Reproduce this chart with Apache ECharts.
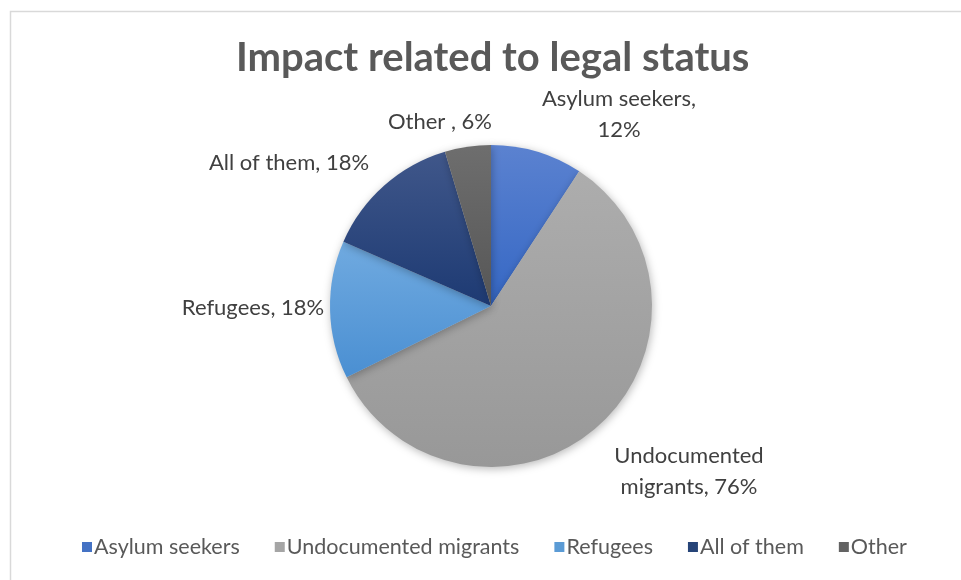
<!DOCTYPE html>
<html>
<head>
<meta charset="utf-8">
<script src="https://cdn.jsdelivr.net/npm/echarts@6/dist/echarts.min.js"></script>
<style>
html,body{margin:0;padding:0;background:#fff;}
#chart{width:961px;height:580px;}
</style>
</head>
<body>
<div id="chart"></div>
<script>
// Data
var categories = ['Asylum seekers', 'Undocumented migrants', 'Refugees', 'All of them', 'Other'];
var values = [12, 76, 18, 18, 6];
var labelTexts = ['Asylum seekers,\n12%', 'Undocumented\nmigrants, 76%', 'Refugees, 18%', 'All of them, 18%', 'Other , 6%'];

// Styles (separate from data)
var gradients = [
  ['#5b82d0', '#3567c4'],
  ['#adadad', '#989898'],
  ['#70aae0', '#4a8fd2'],
  ['#40578a', '#1d3a73'],
  ['#6e6e6e', '#565656']
];
var legendColors = ['#4472c4', '#a5a5a5', '#5b9bd5', '#264478', '#636363'];
// label centre positions, relative to chart canvas
var labelPos = [[619, 114], [689, 471], [253, 308], [289, 163], [440, 122]];

var FONT = 'Lato, "Open Sans", sans-serif';

var chart = echarts.init(document.getElementById('chart'), null, {renderer: 'canvas'});

var data = categories.map(function (c, i) {
  return {
    name: c,
    value: values[i],
    itemStyle: {
      color: new echarts.graphic.LinearGradient(0, 0, 0, 1, [
        {offset: 0, color: gradients[i][0]},
        {offset: 1, color: gradients[i][1]}
      ])
    }
  };
});

var option = {
  animation: false,
  backgroundColor: '#ffffff',
  title: {
    text: 'Impact related to legal status',
    left: 231,
    top: 33,
    textStyle: {fontFamily: FONT, fontWeight: 'bold', fontSize: 40, color: '#595959'}
  },
  graphic: [{
    type: 'rect',
    shape: {x: 10.5, y: 11.5, width: 1000, height: 1000},
    style: {fill: null, stroke: '#d9d9d9', lineWidth: 1.5},
    silent: true
  }],
  legend: {
    bottom: 17,
    left: 77,
    itemWidth: 10,
    itemHeight: 10,
    itemGap: 35,
    icon: 'rect',
    data: categories.map(function (c, i) {
      return {name: c, itemStyle: {color: legendColors[i]}};
    }),
    textStyle: {fontFamily: FONT, fontSize: 21.5, color: '#595959', padding: [0, 0, 0, -3]}
  },
  series: [{
    type: 'pie',
    center: [491, 306],
    radius: 161,
    startAngle: 90,
    clockwise: true,
    data: data,
    itemStyle: {
      shadowBlur: 8,
      shadowColor: 'rgba(0,0,0,0.28)',
      shadowOffsetX: 1,
      shadowOffsetY: 2
    },
    label: {
      show: true,
      formatter: function (p) { return labelTexts[p.dataIndex]; },
      fontFamily: FONT,
      fontSize: 22,
      color: '#404040',
      lineHeight: 31,
      align: 'center'
    },
    labelLine: {show: false},
    labelLayout: function (params) {
      var p = labelPos[params.dataIndex];
      return {x: p[0], y: p[1], align: 'center', verticalAlign: 'middle'};
    }
  }]
};
chart.setOption(option);
</script>
</body>
</html>
